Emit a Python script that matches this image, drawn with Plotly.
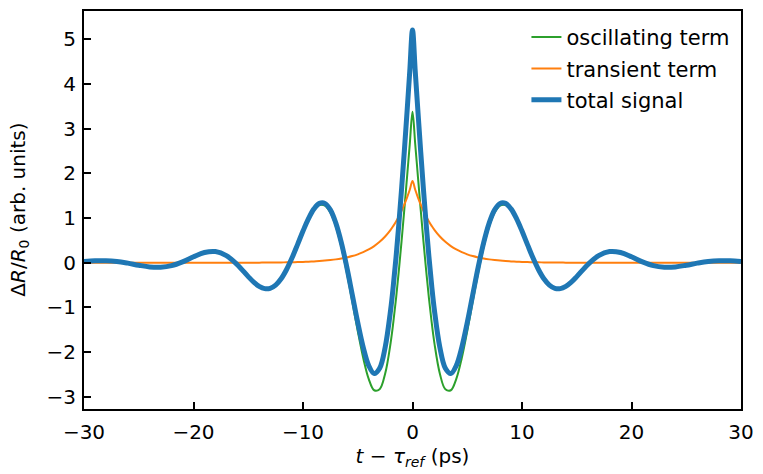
import plotly.graph_objects as go

# time delay (ps)
t = [-30, -29, -28, -27, -26, -25, -24, -23, -22, -21, -20, -19, -18, -17, -16, -15,
     -14.5, -14, -13.5, -13, -12.5, -12, -11.5, -11, -10.5, -10, -9.5, -9, -8.5, -8, -7.5, -7, -6.5, -6,
     -5.5, -5, -4.5, -4, -3.5, -3, -2.5, -2, -1.75, -1.5, -1.25, -1, -0.75, -0.5, -0.25,
     0,
     0.25, 0.5, 0.75, 1, 1.25, 1.5, 1.75, 2, 2.5, 3, 3.5, 4, 4.5, 5, 5.5,
     6, 6.5, 7, 7.5, 8, 8.5, 9, 9.5, 10, 10.5, 11, 11.5, 12, 12.5, 13, 13.5, 14, 14.5,
     15, 16, 17, 18, 19, 20, 21, 22, 23, 24, 25, 26, 27, 28, 29, 30]

oscillating = [0.027, 0.044, 0.047, 0.030, -0.008, -0.055, -0.093, -0.100, -0.065, 0.020, 0.135, 0.230,
               0.250, 0.160, -0.044, -0.312,
               -0.435, -0.531, -0.583, -0.578, -0.507, -0.367, -0.161, 0.098, 0.391, 0.690, 0.963, 1.174,
               1.289, 1.279, 1.122, 0.812, 0.357, -0.217,
               -0.864, -1.526, -2.129, -2.596, -2.851, -2.827, -2.481, -1.795, -1.330, -0.789, -0.183,
               0.479, 1.182, 1.911, 2.649,
               3.375,
               2.649, 1.911, 1.182, 0.479, -0.183, -0.789, -1.330, -1.795, -2.481, -2.827, -2.851, -2.596,
               -2.129, -1.526, -0.864,
               -0.217, 0.357, 0.812, 1.122, 1.279, 1.289, 1.174, 0.963, 0.690, 0.391, 0.098, -0.161,
               -0.367, -0.507, -0.578, -0.583, -0.531, -0.435,
               -0.312, -0.044, 0.160, 0.250, 0.230, 0.135, 0.020, -0.065, -0.100, -0.093, -0.055, -0.008,
               0.030, 0.047, 0.044, 0.027]

transient = [0.0, 0.0, 0.0, 0.0, 0.0, 0.0, 0.0, 0.0, 0.0001, 0.0001, 0.0002, 0.0003, 0.0005, 0.0008,
             0.0013, 0.002,
             0.0025, 0.0031, 0.004, 0.005, 0.006, 0.0078, 0.0098, 0.012, 0.015, 0.019, 0.024, 0.031, 0.038,
             0.048, 0.061, 0.076, 0.095, 0.120,
             0.150, 0.189, 0.237, 0.297, 0.373, 0.468, 0.587, 0.737, 0.826, 0.925, 1.037, 1.162, 1.301,
             1.458, 1.633,
             1.830,
             1.633, 1.458, 1.301, 1.162, 1.037, 0.925, 0.826, 0.737, 0.587, 0.468, 0.373, 0.297, 0.237,
             0.189, 0.150,
             0.120, 0.095, 0.076, 0.061, 0.048, 0.038, 0.031, 0.024, 0.019, 0.015, 0.012, 0.0098, 0.0078,
             0.006, 0.005, 0.004, 0.0031, 0.0025,
             0.002, 0.0013, 0.0008, 0.0005, 0.0003, 0.0002, 0.0001, 0.0001, 0.0, 0.0, 0.0, 0.0, 0.0,
             0.0, 0.0, 0.0]

total = [0.027, 0.044, 0.047, 0.030, -0.008, -0.055, -0.093, -0.100, -0.065, 0.020, 0.135, 0.230, 0.250,
         0.161, -0.043, -0.310,
         -0.433, -0.528, -0.579, -0.573, -0.501, -0.359, -0.151, 0.110, 0.406, 0.709, 0.987, 1.205, 1.327,
         1.327, 1.183, 0.888, 0.452, -0.097,
         -0.714, -1.337, -1.892, -2.299, -2.478, -2.359, -1.894, -1.058, -0.504, 0.136, 0.854, 1.641,
         2.483, 3.369, 4.282,
         5.205,
         4.282, 3.369, 2.483, 1.641, 0.854, 0.136, -0.504, -1.058, -1.894, -2.359, -2.478, -2.299,
         -1.892, -1.337, -0.714,
         -0.097, 0.452, 0.888, 1.183, 1.327, 1.327, 1.205, 0.987, 0.709, 0.406, 0.110, -0.151, -0.359,
         -0.501, -0.573, -0.579, -0.528, -0.433,
         -0.310, -0.043, 0.161, 0.250, 0.230, 0.135, 0.020, -0.065, -0.100, -0.093, -0.055, -0.008,
         0.030, 0.047, 0.044, 0.027]

x_ticks = [-30, -20, -10, 0, 10, 20, 30]
y_ticks = [-3, -2, -1, 0, 1, 2, 3, 4, 5]

x_title = "<i>t</i> − <i>τ</i><sub><i>ref</i></sub> (ps)"
y_title = "Δ<i>R</i>/<i>R</i><sub>0</sub> (arb. units)"

FONT = "DejaVu Sans"
FS = 20

fig = go.Figure()
fig.add_trace(go.Scatter(x=t, y=oscillating, mode="lines", name="oscillating term", legendgroup="a",
                         line=dict(color="#2ca02c", width=2, shape="spline")))
fig.add_trace(go.Scatter(x=t, y=transient, mode="lines", name="transient term", legendgroup="b",
                         line=dict(color="#ff7f0e", width=2, shape="spline")))
fig.add_trace(go.Scatter(x=t, y=total, mode="lines", name="total signal", legendgroup="c",
                         line=dict(color="#1f77b4", width=5, shape="spline")))

axis_common = dict(showline=True, linecolor="black", linewidth=2, mirror=True,
                   ticks="inside", ticklen=7, tickwidth=1.5, tickcolor="black",
                   showgrid=False, zeroline=False,
                   tickfont=dict(family=FONT, size=FS, color="black"))

fig.update_xaxes(range=[-30, 30], tickvals=x_ticks, ticklabelstandoff=4, **axis_common,
                 title=dict(text=x_title, font=dict(family=FONT, size=FS, color="black"), standoff=6))
fig.update_yaxes(range=[-3.27, 5.63], tickvals=y_ticks, ticklabelstandoff=2, **axis_common)

fig.add_annotation(text=y_title, xref="paper", yref="paper", x=-0.0995, y=0.5,
                   xanchor="center", yanchor="middle", textangle=-90, showarrow=False,
                   font=dict(family=FONT, size=FS, color="black"))

fig.update_layout(
    width=763, height=474,
    margin=dict(l=84, r=16, t=9, b=65),
    paper_bgcolor="white", plot_bgcolor="white",
    font=dict(family=FONT, size=FS, color="black"),
    legend=dict(x=0.99, y=0.985, xanchor="right", yanchor="top",
                bgcolor="rgba(0,0,0,0)", borderwidth=0,
                font=dict(family=FONT, size=21, color="black"),
                tracegroupgap=1),
    showlegend=True,
)

fig.write_html("out.html")
